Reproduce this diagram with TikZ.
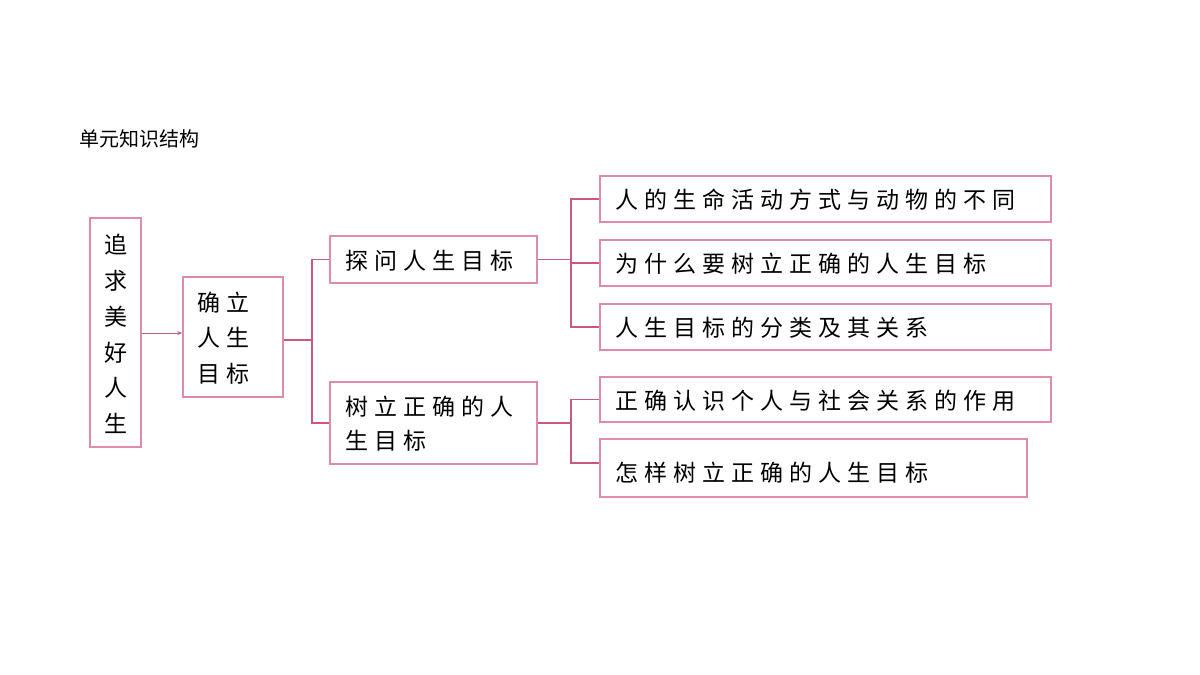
\documentclass[tikz,border=0pt]{standalone}
\usepackage{fontspec}
\newfontfamily\cjk[LetterSpace=26]{Noto Sans CJK SC}
\newfontfamily\cjkt{Noto Sans CJK SC}
\usetikzlibrary{arrows.meta}
\definecolor{pk}{RGB}{222,140,168}
\definecolor{ln}{RGB}{200,90,125}
\begin{document}
\begin{tikzpicture}[x=1pt,y=-1pt,
  bx/.style={draw=pk,line width=1.5pt,inner sep=0pt},
  tx/.style={font=\cjk\fontsize{23}{34}\selectfont,anchor=west,align=left},
  ed/.style={draw=ln,line width=1.5pt}]
\useasboundingbox (0,0) rectangle (1200,675);
\node[font=\cjkt\fontsize{20}{24}\selectfont,anchor=west] (t) at (76,139) {单元知识结构};
\node[bx,minimum width=51,minimum height=229] (a) at (115.5,332.5) {};
\node[font=\cjkt\fontsize{23}{35.8}\selectfont,align=center] (at) at (116,334) {追\\求\\美\\好\\人\\生};
\node[bx,minimum width=100,minimum height=120] (b) at (233,337) {};
\node[tx,font=\cjk\fontsize{23}{35.5}\selectfont] (bt) at (194,338) {确立\\人生\\目标};
\node[bx,minimum width=207,minimum height=47] (c) at (433.5,259.5) {};
\node[tx] at (342,261) {探问人生目标};
\node[bx,minimum width=207,minimum height=82] (d) at (433.5,423) {};
\node[tx] at (342,424) {树立正确的人\\生目标};
\node[bx,minimum width=451,minimum height=46] (e1) at (825.5,199) {};
\node[tx] at (612,200) {人的生命活动方式与动物的不同};
\node[bx,minimum width=451,minimum height=46] (e2) at (825.5,263) {};
\node[tx] at (612,264) {为什么要树立正确的人生目标};
\node[bx,minimum width=451,minimum height=46] (e3) at (825.5,327) {};
\node[tx] at (612,328) {人生目标的分类及其关系};
\node[bx,minimum width=451,minimum height=45] (e4) at (825.5,399.5) {};
\node[tx] at (612,401) {正确认识个人与社会关系的作用};
\node[bx,minimum width=427,minimum height=58] (e5) at (813.5,468) {};
\node[tx] at (612,473) {怎样树立正确的人生目标};
\draw[ed,line width=1pt,-{Stealth[length=5pt,width=4pt]}] (a.east|-0,333) -- (b.west|-0,333);
\draw[ed] (b.east|-0,340) -- (312,340);
\draw[ed] (c.west) -- (312,259.5) -- (312,423) -- (d.west);
\draw[ed] (c.east) -- (571,259.5);
\draw[ed] (e1.west) -- (571,199) -- (571,327) -- (e3.west);
\draw[ed] (e2.west) -- (571,263);
\draw[ed] (d.east) -- (571,423);
\draw[ed] (e4.west) -- (571,399.5) -- (571,463) -- (e5.west|-0,463);
\end{tikzpicture}
\end{document}
